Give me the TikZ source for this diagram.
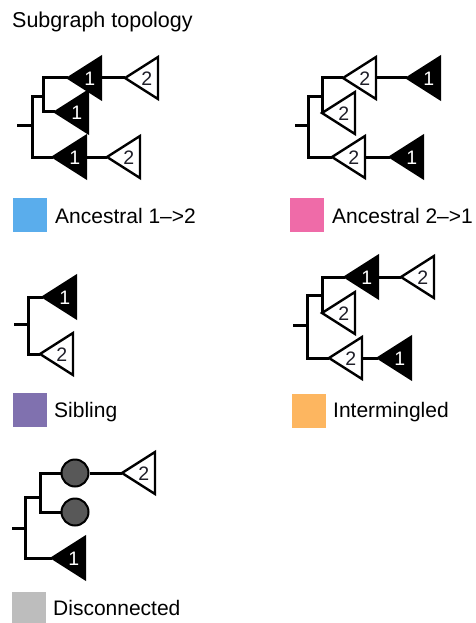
\documentclass[tikz,border=0pt]{standalone}
\usepackage{fontspec}
\setmainfont{Liberation Sans}
\definecolor{ancA}{HTML}{5AADEC}
\definecolor{ancB}{HTML}{EF6BA8}
\definecolor{sib}{HTML}{8071AF}
\definecolor{mix}{HTML}{FDB660}
\definecolor{dis}{HTML}{BDBDBD}
\definecolor{node}{HTML}{585858}
\definecolor{ink}{HTML}{1E1E28}

\newcommand\triW{33}
\newcommand\triH{21}

\tikzset{
  branch/.style={line width=3pt, line join=miter},
  blacktri/.style={draw=black, fill=black, line width=2.4pt, line join=miter},
  whitetri/.style={draw=black, fill=white, line width=2.4pt, line join=miter},
  blackdigit/.style={text=white, font=\fontsize{19.5}{19.5}\selectfont, inner sep=0pt},
  whitedigit/.style={text=ink, font=\fontsize{19.5}{19.5}\selectfont, inner sep=0pt},
  lost/.style={circle, draw=black, fill=node, line width=2pt, minimum size=27pt, inner sep=0pt},
  swatch/.style={minimum size=34pt, inner sep=0pt},
  legend/.style={anchor=base west, inner sep=0pt, font=\fontsize{21}{25}\selectfont},
}

% a collapsed subtree: left-pointing triangle, apex at (#2,#3)
% #1 name, #4 black/white, #5 digit
\newcommand\subtree[5]{%
  \draw[#4tri] (#2,#3) coordinate (#1) -- ++(\triW,-\triH) -- ++(0,2*\triH) -- cycle;
  \coordinate (#1-base) at (#2+\triW,#3);
  \node[#4digit] (#1-num) at (#2+0.66*\triW,#3+1) {#5};
}

\begin{document}
\begin{tikzpicture}[x=1pt,y=-1pt]
\useasboundingbox (0,0) rectangle (475,623);

\node[anchor=base west, inner sep=0pt, font=\fontsize{21.5}{25}\selectfont] (title) at (12,28) {Subgraph topology};

% ---- Ancestral 1->2
\subtree{pa}{68}{78}{black}{1}
\subtree{pb}{125}{78}{white}{2}
\subtree{pc}{55}{112}{black}{1}
\subtree{pd}{53}{157}{black}{1}
\subtree{pe}{107}{157}{white}{2}
\coordinate (proot) at (17,125);
\coordinate (pn0) at (32,125);
\coordinate (pn1) at (43,97);
\draw[branch] (proot) -- (pn0);
\draw[branch] (pn1) -| (pn0) |- (pd);
\draw[branch] (pa) -| (pn1) |- (pc);
\draw[branch] (pa-base) -- (pb);
\draw[branch] (pd-base) -- (pe);
\node[swatch, fill=ancA] (kA) at (30,215) {};
\node[legend] (lA) at (55,223) {Ancestral 1\textendash>2};

% ---- Ancestral 2->1
\subtree{qa}{343}{78}{white}{2}
\subtree{qb}{407}{78}{black}{1}
\subtree{qc}{322}{113}{white}{2}
\subtree{qd}{332}{157}{white}{2}
\subtree{qe}{390}{157}{black}{1}
\coordinate (qroot) at (295,125);
\coordinate (qn0) at (308,125);
\coordinate (qn1) at (322,97);
\draw[branch] (qroot) -- (qn0);
\draw[branch] (qn1) -| (qn0) |- (qd);
\draw[branch] (qa) -| (qn1) |- (qc);
\draw[branch] (qa-base) -- (qb);
\draw[branch] (qd-base) -- (qe);
\node[swatch, fill=ancB] (kB) at (307,215) {};
\node[legend] (lB) at (332,223) {Ancestral 2\textendash>1};

% ---- Sibling
\subtree{sa}{43}{297}{black}{1}
\subtree{sb}{40}{354}{white}{2}
\coordinate (sroot) at (14,324);
\coordinate (sn0) at (28,324);
\draw[branch] (sroot) -- (sn0);
\draw[branch] (sa) -| (sn0) |- (sb);
\node[swatch, fill=sib] (kS) at (30,410) {};
\node[legend] (lS) at (54,417) {Sibling};

% ---- Intermingled
\subtree{ia}{345}{277}{black}{1}
\subtree{ib}{401}{277}{white}{2}
\subtree{ic}{322}{313}{white}{2}
\subtree{id}{329}{358}{white}{2}
\subtree{ie}{378}{358}{black}{1}
\coordinate (iroot) at (293,325);
\coordinate (in0) at (307,325);
\coordinate (in1) at (322,295);
\draw[branch] (iroot) -- (in0);
\draw[branch] (in1) -| (in0) |- (id);
\draw[branch] (ia) -| (in1) |- (ic);
\draw[branch] (ia-base) -- (ib);
\draw[branch] (id-base) -- (ie);
\node[swatch, fill=mix] (kI) at (309,411) {};
\node[legend] (lI) at (333,417) {Intermingled};

% ---- Disconnected
\subtree{da}{122}{473}{white}{2}
\subtree{db}{52}{558}{black}{1}
\node[lost] (dc1) at (75,473) {};
\node[lost] (dc2) at (75,512) {};
\coordinate (droot) at (12,528);
\coordinate (dn0) at (25,528);
\coordinate (dn1) at (40,497);
\draw[branch] (droot) -- (dn0);
\draw[branch] (dn1) -| (dn0) |- (db);
\draw[branch] (dc1) -| (dn1) |- (dc2);
\draw[branch] (dc1) -- (da);
\node[swatch, fill=dis] (kD) at (29,609) {};
\node[legend] (lD) at (53,615) {Disconnected};
\end{tikzpicture}
\end{document}
